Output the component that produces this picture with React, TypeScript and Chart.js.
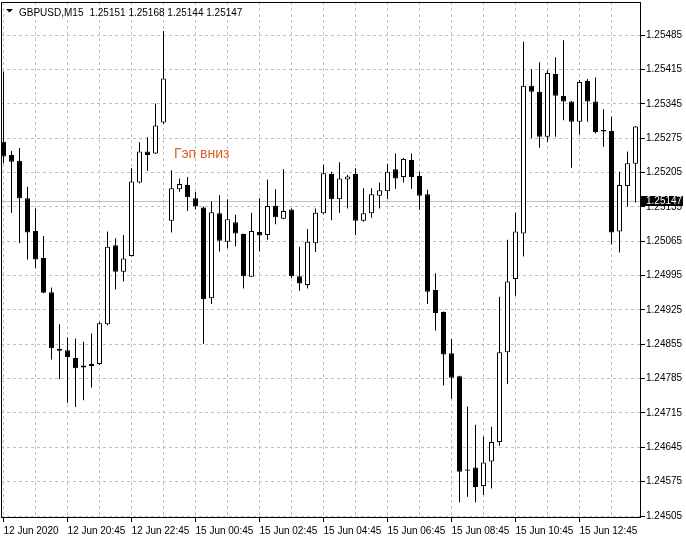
import React, { useEffect, useRef } from "react";
import { Chart, registerables } from "chart.js";

Chart.register(...registerables);

// ---- data (GBPUSD, M15) ----
const symbolTitle = "GBPUSD,M15";
const headerPrices = ["1.25151", "1.25168", "1.25144", "1.25147"];
const currentBid = 1.25147;

const opens = [
  1.25268, 1.25241, 1.25229, 1.25153, 1.25086, 1.25031, 1.24961, 1.24846, 1.24843, 1.24827,
  1.24808, 1.24815, 1.24815, 1.24896, 1.25057, 1.25003, 1.25035, 1.25185, 1.25248, 1.25244,
  1.25307, 1.25107, 1.25171, 1.2518, 1.25153, 1.25134, 1.24949, 1.25122, 1.25064, 1.25104,
  1.2508, 1.24993, 1.25084, 1.25078, 1.25137, 1.25111, 1.2513, 1.24994, 1.24976, 1.25061,
  1.25122, 1.25202, 1.25151, 1.25191, 1.25202, 1.25107, 1.25122, 1.25158, 1.25167, 1.25212,
  1.25196, 1.25231, 1.25198, 1.25161, 1.24966, 1.24921, 1.24837, 1.2479, 1.246, 1.24604,
  1.24566, 1.24616, 1.24656, 1.24839, 1.24988, 1.25081, 1.25382, 1.2537, 1.25278, 1.25406,
  1.25361, 1.2535, 1.25309, 1.25392, 1.2535, 1.25292, 1.2529, 1.25085, 1.25178, 1.25223,
];
const highs = [
  1.25411, 1.25249, 1.25255, 1.25176, 1.25132, 1.25076, 1.24971, 1.24896, 1.24869, 1.24867,
  1.2486, 1.24877, 1.24901, 1.25085, 1.25071, 1.25078, 1.25214, 1.25267, 1.25277, 1.25346,
  1.25494, 1.2521, 1.25193, 1.25196, 1.25166, 1.25136, 1.25146, 1.25159, 1.25151, 1.25119,
  1.25081, 1.25123, 1.25153, 1.25191, 1.25171, 1.25212, 1.25132, 1.25054, 1.2509, 1.25132,
  1.25221, 1.25207, 1.25226, 1.252, 1.25214, 1.25173, 1.25173, 1.25185, 1.25223, 1.25244,
  1.25235, 1.25244, 1.25207, 1.2517, 1.25, 1.24922, 1.24866, 1.24791, 1.24728, 1.24691,
  1.24667, 1.24687, 1.24952, 1.25068, 1.25123, 1.25472, 1.25416, 1.2543, 1.25414, 1.2544,
  1.25475, 1.25351, 1.25394, 1.25396, 1.25399, 1.25334, 1.25319, 1.25207, 1.25248, 1.253,
];
const lows = [
  1.25224, 1.25123, 1.25061, 1.25028, 1.2501, 1.24959, 1.24824, 1.24784, 1.24736, 1.24727,
  1.24741, 1.24767, 1.24813, 1.24894, 1.24967, 1.24983, 1.25034, 1.25183, 1.25209, 1.25243,
  1.25304, 1.25083, 1.25166, 1.25127, 1.2513, 1.24856, 1.24937, 1.25044, 1.25051, 1.25055,
  1.24969, 1.24992, 1.25044, 1.25068, 1.251, 1.2511, 1.2499, 1.24964, 1.24969, 1.25043,
  1.2512, 1.25108, 1.25123, 1.25132, 1.25078, 1.25105, 1.25113, 1.25132, 1.25151, 1.25172,
  1.25185, 1.25172, 1.25129, 1.24937, 1.24883, 1.24771, 1.24744, 1.24533, 1.24544, 1.24533,
  1.24548, 1.24561, 1.24648, 1.24774, 1.24954, 1.25034, 1.25275, 1.25256, 1.25268, 1.25278,
  1.25312, 1.25215, 1.25283, 1.25309, 1.25285, 1.25258, 1.25059, 1.25042, 1.25136, 1.25144,
];
const closes = [
  1.25238, 1.25227, 1.25153, 1.25083, 1.25028, 1.2496, 1.24847, 1.24842, 1.24829, 1.24806,
  1.24812, 1.24811, 1.24898, 1.25054, 1.25003, 1.2503, 1.25187, 1.25248, 1.25241, 1.25301,
  1.25397, 1.25173, 1.25182, 1.25155, 1.25136, 1.24947, 1.25124, 1.25066, 1.2511, 1.25081,
  1.24994, 1.25086, 1.25077, 1.25137, 1.25114, 1.25127, 1.24994, 1.24979, 1.25064, 1.25123,
  1.25204, 1.25151, 1.25193, 1.25197, 1.25107, 1.25122, 1.25161, 1.25169, 1.25207, 1.25193,
  1.25233, 1.25196, 1.25158, 1.24962, 1.24919, 1.24834, 1.24787, 1.24595, 1.24597, 1.24564,
  1.24614, 1.24656, 1.24839, 1.24983, 1.25085, 1.25382, 1.2537, 1.25278, 1.25408, 1.25362,
  1.2535, 1.25309, 1.2539, 1.2535, 1.25288, 1.25289, 1.25083, 1.2518, 1.25224, 1.25299,
];

// one label every 8 bars (2 hours), grid line every 4 bars (1 hour)
const timeLabels = [
  "12 Jun 2020", "12 Jun 20:45", "12 Jun 22:45", "15 Jun 00:45", "15 Jun 02:45",
  "15 Jun 04:45", "15 Jun 06:45", "15 Jun 08:45", "15 Jun 10:45", "15 Jun 12:45",
];
const labelStep = 8;
const gridStep = 4;

const priceTicks = [
  1.24505, 1.24575, 1.24645, 1.24715, 1.24785, 1.24855, 1.24925, 1.24995,
  1.25065, 1.25135, 1.25205, 1.25275, 1.25345, 1.25415, 1.25485,
];

const gapNote = "Гэп вниз";
const gapNoteBar = 21.3;
const gapNotePrice = 1.25234;

// ---- styling ----
const uiFont = "'Liberation Sans', Arial, sans-serif";
const uiSize = 10;
const gridColor = "#C0C0C0";

const decor = {
  id: "mt4Decor",
  beforeDatasetsDraw(chart: any) {
    const { ctx, chartArea: a, scales } = chart;
    const py = Math.round(scales.y.getPixelForValue(currentBid)) + 0.5;
    ctx.save();
    ctx.strokeStyle = "#C0C0C0";
    ctx.lineWidth = 1;
    ctx.beginPath();
    ctx.moveTo(a.left, py);
    ctx.lineTo(a.right, py);
    ctx.stroke();
    ctx.restore();
  },
  afterDatasetsDraw(chart: any) {
    const { ctx, scales } = chart;
    ctx.save();
    ctx.fillStyle = "#D9622B";
    ctx.font = "14px 'Liberation Sans', Arial, sans-serif";
    ctx.textBaseline = "alphabetic";
    ctx.textAlign = "left";
    ctx.fillText(gapNote, scales.x.getPixelForValue(gapNoteBar), scales.y.getPixelForValue(gapNotePrice));
    ctx.restore();
  },
  afterDraw(chart: any) {
    const { ctx, chartArea: a, scales } = chart;
    ctx.save();
    // frame
    ctx.strokeStyle = "#000";
    ctx.lineWidth = 1;
    ctx.strokeRect(a.left + 0.5, a.top + 0.5, a.right - a.left - 1, a.bottom - a.top - 1);
    // header
    ctx.fillStyle = "#000";
    ctx.beginPath();
    ctx.moveTo(6, 9);
    ctx.lineTo(13, 9);
    ctx.lineTo(9.5, 12.5);
    ctx.closePath();
    ctx.fill();
    ctx.font = `${uiSize}px ${uiFont}`;
    ctx.textBaseline = "alphabetic";
    ctx.textAlign = "left";
    ctx.fillText(symbolTitle, 19, 16);
    const symW = ctx.measureText(symbolTitle).width;
    ctx.fillText(headerPrices.join(" "), 19 + symW + 6, 16);
    // bid price box
    const py = Math.round(scales.y.getPixelForValue(currentBid)) + 0.5;
    ctx.fillStyle = "#000";
    ctx.fillRect(a.right, Math.round(py - 5.5), 42, 10);
    ctx.fillStyle = "#fff";
    ctx.textBaseline = "middle";
    ctx.fillText(currentBid.toFixed(5), a.right + 5, py);
    ctx.restore();
  },
};

export default function App() {
  const ref = useRef<HTMLCanvasElement>(null);

  useEffect(() => {
    const canvas = ref.current;
    if (!canvas) return;

    const bodies = opens.map((o, i) => ({ x: i, y: [o, closes[i]] }));
    const wicks = lows.map((l, i) => ({ x: i, y: [l, highs[i]] }));
    const isUp = (i: number) => closes[i] >= opens[i];

    const xTicks: { value: number }[] = [];
    for (let v = 0; v < opens.length; v += gridStep) xTicks.push({ value: v });

    const chart = new Chart(canvas, {
      type: "bar",
      data: {
        datasets: [
          {
            data: bodies as any,
            order: 0,
            grouped: false,
            barThickness: 5,
            borderWidth: 1,
            borderSkipped: false,
            inflateAmount: 0,
            borderColor: "#000",
            backgroundColor: (c: any) => (isUp(c.dataIndex) ? "#FFFFFF" : "#000000"),
          } as any,
          {
            data: wicks as any,
            order: 1,
            grouped: false,
            barThickness: 1,
            borderWidth: 0,
            borderSkipped: false,
            inflateAmount: 0,
            backgroundColor: "#000000",
          } as any,
        ],
      },
      options: {
        responsive: false,
        animation: false,
        devicePixelRatio: 1,
        events: [],
        layout: { padding: { left: 1, top: 2, right: 0, bottom: 0 } },
        plugins: { legend: { display: false }, tooltip: { enabled: false } },
        scales: {
          x: {
            type: "linear",
            position: "bottom",
            min: -0.3125,
            max: 79.6875,
            bounds: "data",
            offset: false,
            afterBuildTicks: (s: any) => {
              s.ticks = xTicks.map((t) => ({ ...t }));
            },
            afterFit: (s: any) => {
              s.height = 22;
              s.paddingLeft = 0;
              s.paddingRight = 0;
            },
            grid: {
              offset: false,
              color: gridColor,
              lineWidth: 1,
              drawTicks: true,
              tickLength: 4,
              tickColor: (c: any) =>
                c.tick && c.tick.value % labelStep === 0 ? "#000" : "rgba(0,0,0,0)",
            },
            border: { display: false, dash: [3, 3] },
            ticks: {
              autoSkip: false,
              maxRotation: 0,
              minRotation: 0,
              align: "start",
              padding: 3,
              color: "#000",
              font: { family: uiFont, size: uiSize },
              callback: (v: any) => {
                const n = Number(v);
                return n % labelStep === 0 ? timeLabels[n / labelStep] ?? "" : "";
              },
            },
          } as any,
          y: {
            type: "linear",
            position: "right",
            min: 1.24500923,
            max: 1.25552889,
            bounds: "data",
            beginAtZero: false,
            afterBuildTicks: (s: any) => {
              s.ticks = priceTicks.map((value) => ({ value }));
            },
            afterFit: (s: any) => {
              s.width = 45;
              s.paddingTop = 0;
              s.paddingBottom = 0;
            },
            grid: {
              color: gridColor,
              lineWidth: 1,
              drawTicks: true,
              tickLength: 4,
              tickColor: "#000",
            },
            border: { display: false, dash: [3, 3] },
            ticks: {
              padding: 1,
              color: "#000",
              font: { family: uiFont, size: uiSize },
              callback: (v: any) => Number(v).toFixed(5),
            },
          } as any,
        },
      },
      plugins: [decor],
    });

    return () => chart.destroy();
  }, []);

  return (
    <div style={{ position: "fixed", left: 0, top: 0, width: 686, height: 540, background: "#fff" }}>
      <canvas ref={ref} width={686} height={540} style={{ width: 686, height: 540, display: "block" }} />
    </div>
  );
}
